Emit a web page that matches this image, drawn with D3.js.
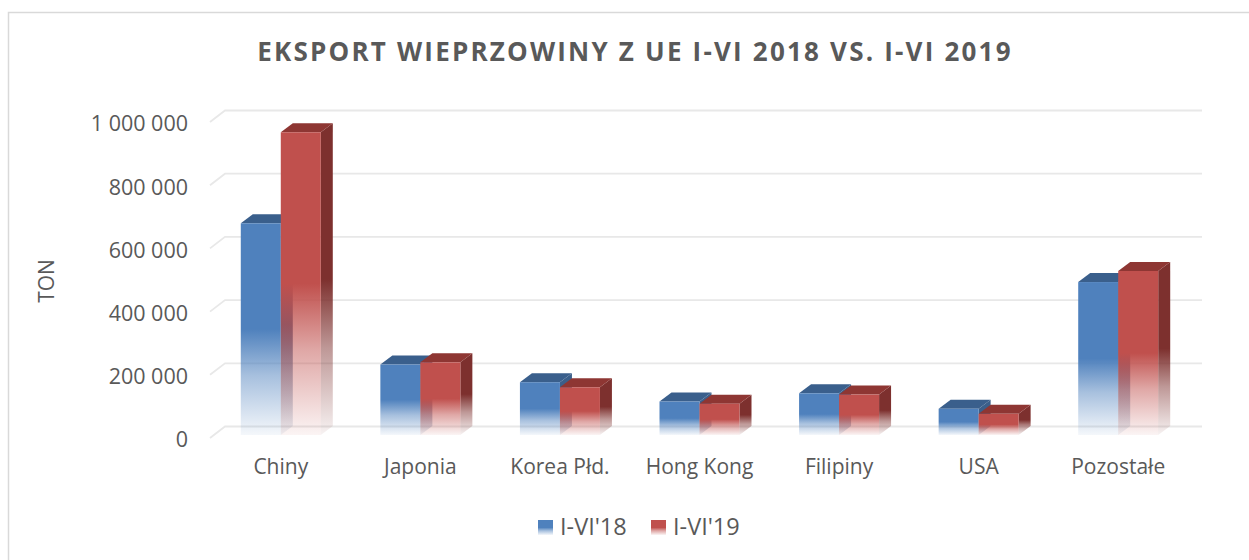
<!DOCTYPE html>
<html>
<head>
<meta charset="utf-8">
<script src="https://cdn.jsdelivr.net/npm/d3@7"></script>
<style>
  body { margin: 0; background: #fff; }
  text { font-family: "Open Sans", sans-serif; fill: #595959; }
</style>
</head>
<body>
<div id="graph"></div>
<script>
// Dane
const categories = ["Chiny", "Japonia", "Korea Płd.", "Hong Kong", "Filipiny", "USA", "Pozostałe"]
const seriesNames = ["I-VI'18", "I-VI'19"]
const values2018 = [670000, 223000, 167000, 106000, 132000, 83000, 484000]
const values2019 = [958000, 230000, 151000, 99000, 128000, 67000, 519000]
const yTicks = [0, 200000, 400000, 600000, 800000, 1000000]
const title = "EKSPORT WIEPRZOWINY Z UE I-VI 2018 VS. I-VI 2019"
const yTitle = "TON"

const dimensions = { width: 1249, height: 560 }
const margin = { left: 211, right: 61, top: 122, bottom: 122 }

// kolory: przód, góra, bok
const colours = [
  { front: "#4f81bd", top: "#3a5f8c", side: "#3b5f8a" },
  { front: "#c0504d", top: "#8e3633", side: "#7d302e" }
]

// głębia 3D
const depth = { dx: 12, dy: -9 }
const floor = { dx: 15, dy: -11.5 }

const graph = () => {
  const svg = d3.select("#graph")
    .append("svg")
      .attr("width", dimensions.width)
      .attr("height", dimensions.height)

  const defs = svg.append("defs")

  // gradienty zanikające do bieli
  const addGradient = (id, colour) => {
    const g = defs.append("linearGradient")
      .attr("id", id)
      .attr("x1", 0).attr("y1", 0).attr("x2", 0).attr("y2", 1)
    const stops = [[0, 1], [0.5, 1], [0.72, 0.5], [1, 0.06]]
    stops.forEach(([o, a]) => g.append("stop")
      .attr("offset", o)
      .attr("stop-color", colour)
      .attr("stop-opacity", a))
  }
  colours.forEach((c, i) => {
    addGradient(`front${i}`, c.front)
    addGradient(`side${i}`, c.side)
  })

  // ramka
  svg.append("rect")
    .attr("x", 8.5).attr("y", 12.5)
    .attr("width", 1400).attr("height", 700)
    .attr("fill", "none")
    .attr("stroke", "#d9d9d9")
    .attr("stroke-width", 1.5)

  // skale
  const xScale = d3.scaleBand()
    .domain(categories)
    .range([margin.left, dimensions.width - margin.right])

  const inner = d3.scaleBand()
    .domain(seriesNames)
    .range([0, 80])

  const yScale = d3.scaleLinear()
    .domain([0, 1000000])
    .range([438, margin.top])

  // siatka (ściana tylna)
  svg.append("g")
    .selectAll("path")
    .data(yTicks)
    .join("path")
      .attr("d", d => {
        const y = yScale(d)
        return `M${margin.left - 1},${y} L${margin.left - 1 + floor.dx},${y + floor.dy} L1202,${y + floor.dy}`
      })
      .attr("fill", "none")
      .attr("stroke", "#e8e8e8")
      .attr("stroke-width", 1.8)

  // oś Y
  const yAxis = svg.append("g")
    .attr("transform", "translate(188,2)")
    .call(d3.axisLeft(yScale)
      .tickValues(yTicks)
      .tickSize(0)
      .tickPadding(0)
      .tickFormat(d => d3.format(",")(d).replace(/,/g, "\u00a0")))
  yAxis.select(".domain").remove()
  yAxis.selectAll("text")
    .style("font-size", "21.5px")
    .style("font-family", "'Open Sans', sans-serif")
    .attr("fill", "#595959")

  // oś X
  const xAxis = svg.append("g")
    .attr("transform", "translate(0,459)")
    .call(d3.axisBottom(xScale).tickSize(0).tickPadding(0))
  xAxis.select(".domain").remove()
  xAxis.selectAll("text")
    .style("font-size", "21px")
    .style("font-family", "'Open Sans', sans-serif")
    .attr("fill", "#595959")

  // dane w wierszach
  const rows = []
  categories.forEach((c, i) => {
    rows.push({ cat: c, s: 0, v: values2018[i] })
    rows.push({ cat: c, s: 1, v: values2019[i] })
  })

  const base = yScale(0) - 3
  const bars = svg.append("g")
    .selectAll("g")
    .data(rows)
    .join("g")

  bars.each(function (d) {
    const g = d3.select(this)
    const x0 = xScale(d.cat) + (xScale.bandwidth() - 80) / 2 + inner(seriesNames[d.s])
    const x1 = x0 + inner.bandwidth()
    const yTop = yScale(d.v) - 3
    const c = colours[d.s]

    // bok
    g.append("path")
      .attr("d", `M${x1},${yTop} L${x1 + depth.dx},${yTop + depth.dy} L${x1 + depth.dx},${base + depth.dy} L${x1},${base} Z`)
      .attr("fill", `url(#side${d.s})`)
    // góra
    g.append("path")
      .attr("d", `M${x0},${yTop} L${x0 + depth.dx},${yTop + depth.dy} L${x1 + depth.dx},${yTop + depth.dy} L${x1},${yTop} Z`)
      .attr("fill", c.top)
    // przód
    g.append("rect")
      .attr("x", x0)
      .attr("y", yTop)
      .attr("width", x1 - x0)
      .attr("height", base - yTop)
      .attr("fill", `url(#front${d.s})`)
  })

  // tytuł
  svg.append("text")
    .attr("x", 635)
    .attr("y", 54)
    .attr("text-anchor", "middle")
    .attr("dominant-baseline", "middle")
    .style("font-size", "26px")
    .style("font-weight", "bold")
    .style("letter-spacing", "2.2px")
    .text(title)

  // tytuł osi Y
  svg.append("text")
    .attr("transform", "translate(48,281) rotate(-90)")
    .attr("text-anchor", "middle")
    .attr("dominant-baseline", "middle")
    .style("font-size", "21px")
    .text(yTitle)

  // legenda
  const legendX = [538, 651]
  const legend = svg.append("g")
    .selectAll("g")
    .data(seriesNames)
    .join("g")
      .attr("transform", (_, i) => `translate(${legendX[i]},520)`)
  legend.append("rect")
    .attr("width", 15).attr("height", 15)
    .attr("fill", (_, i) => `url(#front${i})`)
  legend.append("text")
    .attr("x", 22)
    .attr("y", 9)
    .attr("dominant-baseline", "middle")
    .style("font-size", "23.5px")
    .text(d => d)
}

graph()
</script>
</body>
</html>
